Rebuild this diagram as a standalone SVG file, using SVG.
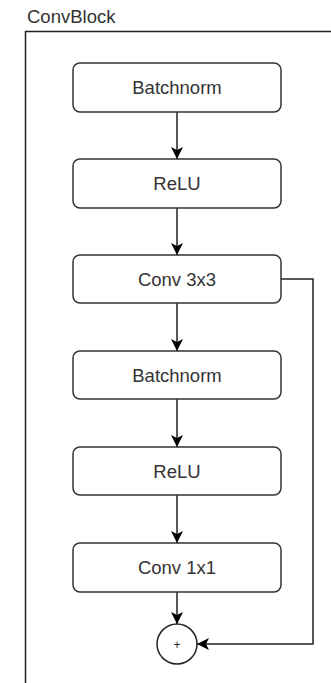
<svg xmlns="http://www.w3.org/2000/svg" width="331" height="683" viewBox="0 0 331 683">
<defs>
<marker id="arr" viewBox="0 0 12 12" refX="12" refY="6" markerWidth="12" markerHeight="12" markerUnits="userSpaceOnUse" orient="auto">
<path d="M0,0 L12,6 L0,12 L3,6 Z" fill="#000"/>
</marker>
<style>
.box{fill:#fff;stroke:#333;stroke-width:1.5}
.lbl{font-family:"Liberation Sans",Arial,sans-serif;font-size:18.5px;fill:#333;text-anchor:middle}
.conn{fill:none;stroke:#222;stroke-width:1.5;marker-end:url(#arr)}
</style>
</defs>
<rect width="331" height="683" fill="#fff"/>
<g id="container">
<path d="M25.5 683 V31.5 H331" fill="none" stroke="#222" stroke-width="1.5"/>
<text x="27" y="22.5" font-family="'Liberation Sans',Arial,sans-serif" font-size="18.5" fill="#333">ConvBlock</text>
</g>
<g id="connectors">
<path class="conn" d="M177 112 V159"/>
<path class="conn" d="M177 208 V255"/>
<path class="conn" d="M177 303 V351"/>
<path class="conn" d="M177 399 V447"/>
<path class="conn" d="M177 495 V543"/>
<path class="conn" d="M177 592 V624"/>
<path class="conn" d="M281 279 H313 V644 H197"/>
</g>
<g id="batchnorm1"><rect class="box" x="73" y="63" width="208" height="49" rx="7"/><text class="lbl" x="177" y="94">Batchnorm</text></g>
<g id="relu1"><rect class="box" x="73" y="159" width="208" height="49" rx="7"/><text class="lbl" x="177" y="190">ReLU</text></g>
<g id="conv3x3"><rect class="box" x="73" y="255" width="208" height="48" rx="7"/><text class="lbl" x="177" y="286">Conv 3x3</text></g>
<g id="batchnorm2"><rect class="box" x="73" y="351" width="208" height="48" rx="7"/><text class="lbl" x="177" y="382">Batchnorm</text></g>
<g id="relu2"><rect class="box" x="73" y="447" width="208" height="48" rx="7"/><text class="lbl" x="177" y="478">ReLU</text></g>
<g id="conv1x1"><rect class="box" x="73" y="543" width="208" height="49" rx="7"/><text class="lbl" x="177" y="574">Conv 1x1</text></g>
<g id="add"><circle cx="177" cy="644" r="20" fill="#fff" stroke="#222" stroke-width="1.5"/><text x="177" y="648.5" font-family="'Liberation Sans',Arial,sans-serif" font-size="12" fill="#222" text-anchor="middle">+</text></g>
</svg>
